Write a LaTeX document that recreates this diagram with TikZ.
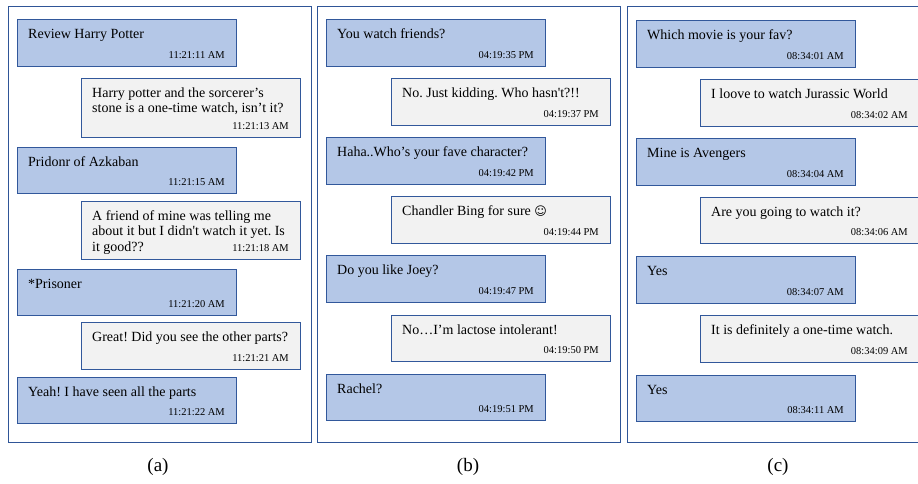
\documentclass[tikz,border=0pt]{standalone}
\usepackage{fontspec}
\setmainfont{Liberation Serif}
\newfontfamily\symfont{DejaVu Sans}
\frenchspacing
\definecolor{frameblue}{RGB}{47,85,151}
\definecolor{bubbleborder}{RGB}{50,88,155}
\definecolor{bubbleblue}{RGB}{180,199,231}
\definecolor{bubblegray}{RGB}{242,242,242}
\newcommand\msgfont{\fontsize{14}{15.5}\selectfont}
\newcommand\stampfont{\fontsize{10.5}{12}\selectfont}
\tikzset{
  panelframe/.style={draw=frameblue, line width=1pt},
  bluebub/.style={rectangle, draw=bubbleborder, fill=bubbleblue, line width=1pt, anchor=north west, inner sep=0pt, minimum width=219pt},
  graybub/.style={rectangle, draw=bubbleborder, fill=bubblegray, line width=1pt, anchor=north west, inner sep=0pt, minimum width=219pt},
  msg/.style={anchor=base west, inner sep=0pt, font=\msgfont},
  stamp/.style={anchor=base east, inner sep=0pt, font=\stampfont},
  caption/.style={anchor=base, inner sep=0pt, font=\fontsize{19}{22}\selectfont}
}
% #1 name, #2 style, #3 x, #4 y, #5 height, #6 time stamp
\newcommand\chatbox[6]{%
  \node[#2, minimum height=#5pt] (#1) at (#3,#4) {};
  \node[stamp] (#1t) at ([shift={(-12,-9)}]#1.south east) {#6};
}
% #1 name, #2 bubble, #3 baseline offset, #4 text
\newcommand\chatline[4]{%
  \node[msg] (#1) at ([shift={(11,#3)}]#2.north west) {#4};
}
\begin{document}
\begin{tikzpicture}[x=1pt,y=-1pt]
\useasboundingbox (0,0) rectangle (918,483);
\clip (0,0) rectangle (918,483);
\fill[white] (0,0) rectangle (918,483);

% ---------- panel (a) ----------
\node[panelframe, rectangle, anchor=north west, inner sep=0pt, minimum width=303pt, minimum height=436pt] (fa) at (8,6) {};
\chatbox{a1}{bluebub}{17}{19}{47}{11:21:11 AM}
\chatline{a1l1}{a1}{19}{Review Harry Potter}
\chatbox{a2}{graybub}{81}{78}{59}{11:21:13 AM}
\chatline{a2l1}{a2}{19}{Harry potter and the sorcerer’s}
\chatline{a2l2}{a2}{34.5}{stone is a one-time watch, isn’t it?}
\chatbox{a3}{bluebub}{17}{147}{46}{11:21:15 AM}
\chatline{a3l1}{a3}{19}{Pridonr of Azkaban}
\chatbox{a4}{graybub}{81}{201}{58}{11:21:18 AM}
\chatline{a4l1}{a4}{19}{A friend of mine was telling me}
\chatline{a4l2}{a4}{34.5}{about it but I didn\textquotesingle t watch it yet. Is}
\chatline{a4l3}{a4}{50}{it good??}
\chatbox{a5}{bluebub}{17}{269}{46}{11:21:20 AM}
\chatline{a5l1}{a5}{19}{*Prisoner}
\chatbox{a6}{graybub}{81}{322}{47}{11:21:21 AM}
\chatline{a6l1}{a6}{19}{Great! Did you see the other parts?}
\chatbox{a7}{bluebub}{17}{377}{46}{11:21:22 AM}
\chatline{a7l1}{a7}{19}{Yeah! I have seen all the parts}
\node[caption] (capa) at (158,471) {(a)};

% ---------- panel (b) ----------
\node[panelframe, rectangle, anchor=north west, inner sep=0pt, minimum width=303pt, minimum height=436pt] (fb) at (317,6) {};
\chatbox{b1}{bluebub}{326}{19}{47}{04:19:35 PM}
\chatline{b1l1}{b1}{19}{You watch friends?}
\chatbox{b2}{graybub}{391}{78}{47}{04:19:37 PM}
\chatline{b2l1}{b2}{19}{No. Just kidding. Who hasn\textquotesingle t?!!}
\chatbox{b3}{bluebub}{326}{137}{47}{04:19:42 PM}
\chatline{b3l1}{b3}{19}{Haha..Who’s your fave character?}
\chatbox{b4}{graybub}{391}{196}{47}{04:19:44 PM}
\chatline{b4l1}{b4}{19}{Chandler Bing for sure {\symfont\fontsize{12}{14}\selectfont ☺}}
\chatbox{b5}{bluebub}{326}{255}{47}{04:19:47 PM}
\chatline{b5l1}{b5}{19}{Do you like Joey?}
\chatbox{b6}{graybub}{391}{315}{46}{04:19:50 PM}
\chatline{b6l1}{b6}{19}{No…I’m lactose intolerant!}
\chatbox{b7}{bluebub}{326}{374}{46}{04:19:51 PM}
\chatline{b7l1}{b7}{19}{Rachel?}
\node[caption] (capb) at (468,471) {(b)};

% ---------- panel (c) ----------
\node[panelframe, rectangle, anchor=north west, inner sep=0pt, minimum width=303pt, minimum height=436pt] (fc) at (627,6) {};
\chatbox{c1}{bluebub}{636}{20}{47}{08:34:01 AM}
\chatline{c1l1}{c1}{19}{Which movie is your fav?}
\chatbox{c2}{graybub}{700}{79}{47}{08:34:02 AM}
\chatline{c2l1}{c2}{19}{I loove to watch Jurassic World}
\chatbox{c3}{bluebub}{636}{138}{47}{08:34:04 AM}
\chatline{c3l1}{c3}{19}{Mine is Avengers}
\chatbox{c4}{graybub}{700}{197}{46}{08:34:06 AM}
\chatline{c4l1}{c4}{19}{Are you going to watch it?}
\chatbox{c5}{bluebub}{636}{256}{47}{08:34:07 AM}
\chatline{c5l1}{c5}{19}{Yes}
\chatbox{c6}{graybub}{700}{315}{47}{08:34:09 AM}
\chatline{c6l1}{c6}{19}{It is definitely a one-time watch.}
\chatbox{c7}{bluebub}{636}{375}{46}{08:34:11 AM}
\chatline{c7l1}{c7}{19}{Yes}
\node[caption] (capc) at (778,471) {(c)};
\end{tikzpicture}
\end{document}
